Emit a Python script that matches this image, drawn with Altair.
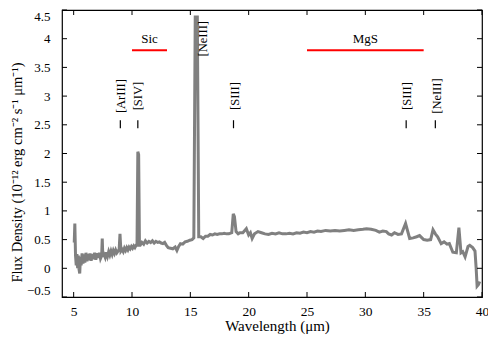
import altair as alt
import pandas as pd

# ---- spectrum ----
wl = [5.05, 5.10, 5.16, 5.22, 5.28, 5.34, 5.40, 5.46, 5.52, 5.58, 5.64, 5.72, 5.80, 5.88, 5.96,
      6.05, 6.14, 6.22, 6.30, 6.40, 6.50, 6.60, 6.70, 6.80, 6.90, 7.00, 7.10, 7.20, 7.30, 7.40,
      7.45, 7.50, 7.60, 7.70, 7.80, 7.90, 8.00, 8.10, 8.20, 8.30, 8.40, 8.50, 8.60, 8.70, 8.80,
      8.90, 8.97, 9.05, 9.15, 9.25, 9.35, 9.45, 9.55, 9.65, 9.75, 9.85, 9.95, 10.05, 10.15, 10.25,
      10.35, 10.43, 10.50, 10.57, 10.64,
      10.70, 10.85, 11.00, 11.15, 11.30, 11.45, 11.60, 11.75, 11.90, 12.05, 12.20, 12.35, 12.50,
      12.65, 12.80, 12.95, 13.10, 13.30, 13.50, 13.70, 13.85, 14.00, 14.15, 14.35, 14.55, 14.75,
      14.95, 15.15, 15.30, 15.42, 15.60, 15.72, 15.90, 16.10, 16.30, 16.50, 16.70, 16.90, 17.10,
      17.30, 17.50, 17.70, 17.90, 18.10, 18.30, 18.55, 18.68, 18.78, 18.92, 19.10, 19.25, 19.50,
      19.80, 20.00, 20.15, 20.30, 20.50, 20.80, 21.10, 21.40, 21.70, 22.00, 22.30, 22.60, 22.90,
      23.20, 23.50, 23.80, 24.10, 24.40, 24.70, 25.00, 25.30, 25.60, 25.90, 26.20, 26.60, 27.00,
      27.40, 27.80, 28.20, 28.60, 29.00, 29.40, 29.80, 30.10, 30.50, 30.90, 31.20, 31.50, 31.80,
      32.00, 32.25, 32.50, 32.80, 33.10, 33.45, 33.80, 34.10, 34.40, 34.65, 35.00, 35.30, 35.60,
      35.80, 36.00, 36.20, 36.50, 36.75, 37.00, 37.20, 37.50, 37.80, 38.02, 38.20, 38.35, 38.55,
      38.80, 38.95, 39.20, 39.40, 39.50, 39.58, 39.70, 39.80]
flux = [0.45, 0.78, 0.22, 0.05, 0.25, 0.00, 0.22, -0.02, -0.09, 0.20, 0.05, 0.26, 0.08, 0.24, 0.10,
        0.27, 0.12, 0.25, 0.14, 0.26, 0.13, 0.25, 0.16, 0.27, 0.15, 0.26, 0.18, 0.27, 0.17, 0.22,
        0.52, 0.20, 0.24, 0.19, 0.28, 0.21, 0.29, 0.23, 0.30, 0.24, 0.31, 0.26, 0.32, 0.27, 0.30,
        0.33, 0.60, 0.30, 0.33, 0.29, 0.35, 0.31, 0.36, 0.32, 0.37, 0.34, 0.38, 0.35, 0.39, 0.36,
        0.40, 0.40, 2.03, 1.98, 0.40,
        0.40, 0.45, 0.42, 0.48, 0.44, 0.47, 0.45, 0.48, 0.44, 0.47, 0.45, 0.46, 0.44,
        0.43, 0.45, 0.40, 0.36, 0.35, 0.34, 0.37, 0.31, 0.38, 0.43, 0.42, 0.46, 0.47,
        0.49, 0.50, 0.53, 4.38, 4.38, 0.55, 0.55, 0.52, 0.56, 0.56, 0.59, 0.58, 0.60,
        0.59, 0.60, 0.60, 0.61, 0.60, 0.60, 0.62, 0.95, 0.90, 0.64, 0.60, 0.62, 0.62,
        0.69, 0.58, 0.62, 0.52, 0.60, 0.64, 0.62, 0.60, 0.59, 0.61, 0.60, 0.62, 0.60,
        0.60, 0.61, 0.60, 0.62, 0.61, 0.63, 0.62, 0.64, 0.63, 0.65, 0.64, 0.66, 0.65,
        0.66, 0.65, 0.66, 0.67, 0.66, 0.67, 0.68, 0.69, 0.68, 0.66, 0.63, 0.65, 0.64,
        0.60, 0.58, 0.62, 0.59, 0.60, 0.78, 0.52, 0.53, 0.55, 0.57, 0.50, 0.49, 0.50,
        0.67, 0.60, 0.55, 0.43, 0.46, 0.42, 0.43, 0.28, 0.27, 0.71, 0.27, 0.29, 0.20,
        0.38, 0.40, 0.36, 0.30, 0.00, -0.31, -0.28, -0.23]

# ---- line identifications ----
ann_labels = ["[ArIII]", "[SIV]", "[NeIII]", "[SIII]", "[SIII]", "[NeIII]"]
ann_x = [9.05, 10.55, 16.1, 18.8, 33.6, 36.1]
ann_y = [3.0, 3.0, 4.0, 3.0, 3.0, 3.0]
dash_x = [9.0, 10.5, 18.7, 33.5, 36.0]
dash_y1 = [2.44, 2.44, 2.44, 2.44, 2.44]
dash_y2 = [2.58, 2.58, 2.58, 2.58, 2.58]

# ---- dust bands ----
band_labels = ["Sic", "MgS"]
band_start = [10.0, 25.0]
band_end = [13.0, 35.0]
band_level = [3.8, 3.8]
band_text_y = [4.0, 4.0]

x_ticks = [5, 10, 15, 20, 25, 30, 35, 40]
y_ticks = [-0.5, 0, 0.5, 1, 1.5, 2, 2.5, 3, 3.5, 4, 4.5]

FONT = "Liberation Serif"
W, H = 420, 287

spec = pd.DataFrame({"wl": wl, "flux": flux})
ann = pd.DataFrame({"label": ann_labels, "x": ann_x, "y": ann_y})
dash = pd.DataFrame({"x": dash_x, "y1": dash_y1, "y2": dash_y2})
bands = pd.DataFrame({"label": band_labels, "x1": band_start, "x2": band_end,
                      "y": band_level, "ty": band_text_y,
                      "xm": [(a + b) / 2 for a, b in zip(band_start, band_end)]})
xt = pd.DataFrame({"v": x_ticks})
yt = pd.DataFrame({"v": y_ticks})

xscale = alt.Scale(domain=[4, 40], nice=False, zero=False)
yscale = alt.Scale(domain=[-0.5, 4.5], nice=False, zero=False)

xaxis = alt.Axis(values=x_ticks, tickSize=0, ticks=False, domain=False, grid=False,
                 labelPadding=7, labelFont=FONT, labelFontSize=13.5, labelColor="black",
                 labelOverlap=False, labelFlush=False,
                 title="Wavelength (μm)", titleFont=FONT, titleFontSize=15,
                 titleFontWeight="normal", titleColor="black",
                 titleX=215, titleY=28, titleBaseline="middle", titleAlign="center")
yaxis = alt.Axis(values=y_ticks, tickSize=0, ticks=False, domain=False, grid=False,
                 labelPadding=12, format="~g", labelFont=FONT, labelFontSize=13,
                 labelColor="black", labelOverlap=False, labelFlush=True,
                 title="Flux Density (10⁻¹² erg cm⁻² s⁻¹ μm⁻¹)", titleFont=FONT,
                 titleFontSize=14.5, titleFontWeight="normal", titleColor="black",
                 titleX=-45, titleY=162, titleAngle=270, titleBaseline="middle",
                 titleAlign="center")


def X(field):
    return alt.X(field, scale=xscale, axis=xaxis)


def Y(field):
    return alt.Y(field, scale=yscale, axis=yaxis)


line = alt.Chart(spec).mark_line(color="#808080", strokeWidth=3, clip=True).encode(
    x=X("wl:Q"), y=Y("flux:Q"))

ticks_bottom = alt.Chart(xt).mark_rule(color="black", strokeWidth=1).encode(
    x=X("v:Q"), y=alt.value(H), y2=alt.value(H - 5))
ticks_top = alt.Chart(xt).mark_rule(color="black", strokeWidth=1).encode(
    x=X("v:Q"), y=alt.value(0), y2=alt.value(5))
ticks_left = alt.Chart(yt).mark_rule(color="black", strokeWidth=1).encode(
    y=Y("v:Q"), x=alt.value(0), x2=alt.value(5))
ticks_right = alt.Chart(yt).mark_rule(color="black", strokeWidth=1).encode(
    y=Y("v:Q"), x=alt.value(W), x2=alt.value(W - 5))

ann_text = alt.Chart(ann).mark_text(angle=270, font=FONT, fontSize=12.5, color="black",
                                    align="center", baseline="middle").encode(
    x=X("x:Q"), y=Y("y:Q"), text="label:N")
ann_dash = alt.Chart(dash).mark_rule(color="black", strokeWidth=1.2).encode(
    x=X("x:Q"), y=Y("y1:Q"), y2="y2:Q")

band_rule = alt.Chart(bands).mark_rule(color="#ff0000", strokeWidth=2).encode(
    x=X("x1:Q"), x2="x2:Q", y=Y("y:Q"))
band_text = alt.Chart(bands).mark_text(font=FONT, fontSize=13, color="black",
                                       align="center", baseline="middle").encode(
    x=X("xm:Q"), y=Y("ty:Q"), text="label:N")

chart = alt.layer(line, ticks_bottom, ticks_top, ticks_left, ticks_right,
                  ann_dash, ann_text, band_rule, band_text).properties(
    width=W, height=H,
    autosize=alt.AutoSizeParams(type="none"),
    padding={"left": 54, "top": 2, "right": 6, "bottom": 42},
    background="white",
).configure(font=FONT).configure_view(stroke="black", strokeWidth=1.2)

chart.save("out.html", embed_options={"renderer": "svg", "actions": False})
